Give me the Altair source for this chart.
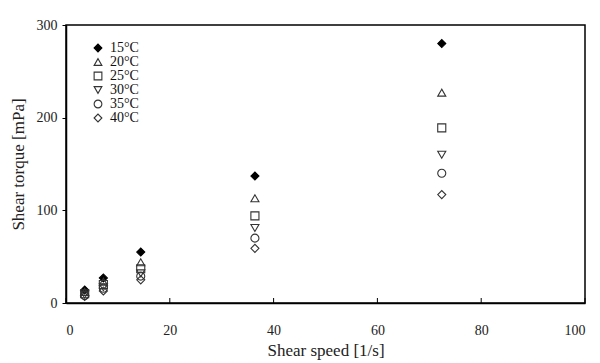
import altair as alt
import pandas as pd

speeds = [3.6, 7.2, 14.4, 36.4, 72.4]
temps = ["15°C", "20°C", "25°C", "30°C", "35°C", "40°C"]
t15 = [14, 27, 55, 137, 280]
t20 = [12, 23, 44, 113, 227]
t25 = [10, 20, 37, 94, 189]
t30 = [9, 17, 32, 81, 160]
t35 = [8, 16, 29, 70, 140]
t40 = [7, 13, 25, 59, 117]
x_ticks = [0, 20, 40, 60, 80, 100]
y_ticks = [0, 100, 200, 300]

series = [t15, t20, t25, t30, t35, t40]
rows = []
for t, vals in zip(temps, series):
    for s, v in zip(speeds, vals):
        rows.append({"speed": s, "torque": v, "temp": t})
df = pd.DataFrame(rows)
ticks_df = pd.DataFrame({"v": x_ticks})

W, H = 519, 278
FONT = "Liberation Serif, Times New Roman, serif"

shapes = ["diamond", "triangle-up", "square", "triangle-down", "circle", "diamond"]
fills = ["black", "transparent", "transparent", "transparent", "transparent", "transparent"]
strokes = ["black", "#333333", "#333333", "#333333", "#333333", "#333333"]

points = alt.Chart(df).mark_point(filled=False, size=65, strokeWidth=1.1, opacity=1).encode(
    x=alt.X("speed:Q", scale=alt.Scale(domain=[0, 100], nice=False),
            axis=alt.Axis(values=x_ticks, title="Shear speed [1/s]", ticks=False,
                          labelPadding=20, titlePadding=5)),
    y=alt.Y("torque:Q", scale=alt.Scale(domain=[0, 300], nice=False),
            axis=alt.Axis(values=y_ticks, title="Shear torque [mPa]", tickSize=4,
                          labelPadding=5, titlePadding=9)),
    shape=alt.Shape("temp:N", sort=temps, scale=alt.Scale(domain=temps, range=shapes),
                    legend=alt.Legend(title=None, orient="none", legendX=25, legendY=16,
                                      symbolSize=60, symbolStrokeWidth=1.1,
                                      labelFont=FONT, labelFontSize=14, labelColor="#111",
                                      rowPadding=-1, labelOffset=5)),
    fill=alt.Fill("temp:N", sort=temps, scale=alt.Scale(domain=temps, range=fills), legend=None),
    stroke=alt.Stroke("temp:N", sort=temps, scale=alt.Scale(domain=temps, range=strokes), legend=None),
)

xticks = alt.Chart(ticks_df).mark_rule(color="black", strokeWidth=1).encode(
    x=alt.X("v:Q"),
    y=alt.value(H),
    y2=alt.value(H - 5),
)

chart = alt.layer(points, xticks).properties(
    width=W, height=H,
    padding={"left": 66, "top": 25, "right": 15, "bottom": 60},
    autosize=alt.AutoSizeParams(type="none"),
).configure_view(
    stroke="black", strokeWidth=1.5
).configure_axis(
    domainColor="black", domainWidth=1.5, tickColor="black", grid=False,
    labelFont=FONT, labelFontSize=14, labelColor="#222",
    titleFont=FONT, titleFontSize=17, titleFontWeight="normal", titleColor="#222",
).configure_legend(
    symbolFillColor="transparent"
)

chart.save("out.html", embed_options={"renderer": "svg", "actions": False})
